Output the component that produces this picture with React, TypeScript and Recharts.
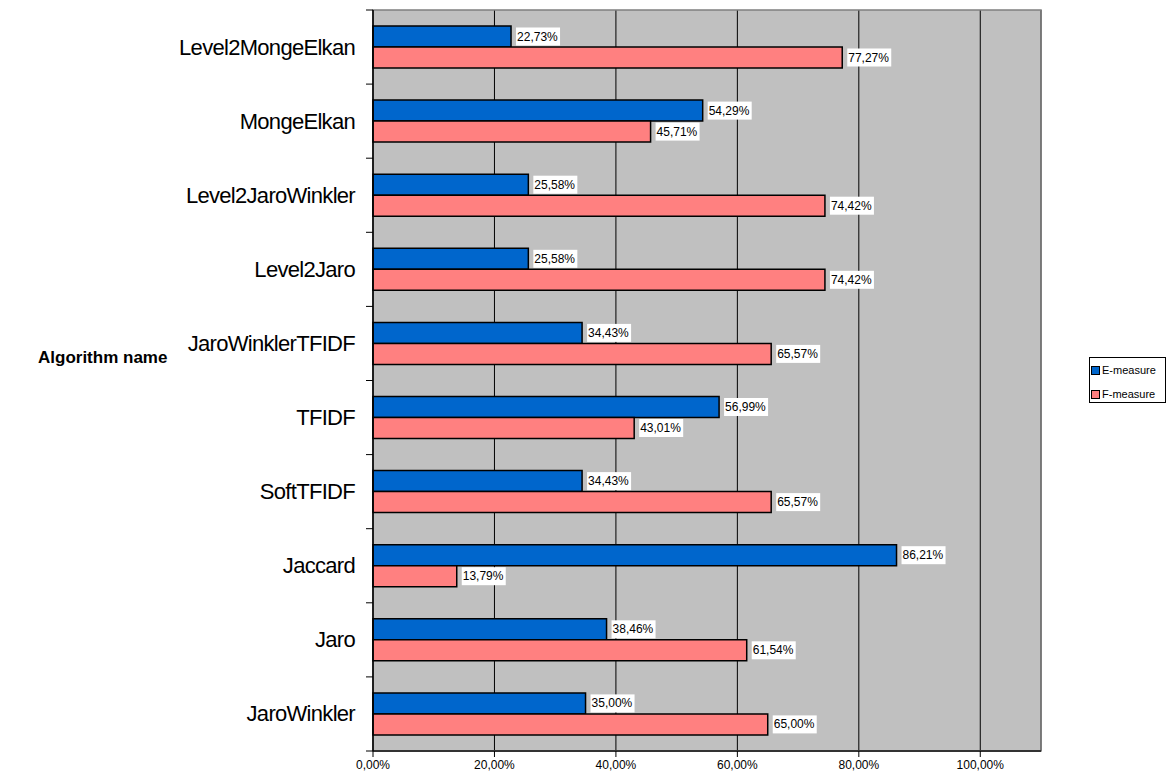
import React from 'react';
import { BarChart, Bar, XAxis, YAxis, CartesianGrid, LabelList, ReferenceArea } from 'recharts';

const CATEGORIES = [
  'Level2MongeElkan',
  'MongeElkan',
  'Level2JaroWinkler',
  'Level2Jaro',
  'JaroWinklerTFIDF',
  'TFIDF',
  'SoftTFIDF',
  'Jaccard',
  'Jaro',
  'JaroWinkler',
];
const E_MEASURE = [22.73, 54.29, 25.58, 25.58, 34.43, 56.99, 34.43, 86.21, 38.46, 35.0];
const F_MEASURE = [77.27, 45.71, 74.42, 74.42, 65.57, 43.01, 65.57, 13.79, 61.54, 65.0];
const X_TICKS = [0, 20, 40, 60, 80, 100];

const FONT = '"Liberation Sans", Arial, sans-serif';
const W = 1172;
const H = 776;
const MARGIN = { top: 10, right: 131, bottom: 0, left: 0 };
const X_AXIS_H = 25;
const Y_AXIS_W = 373;
const PLOT_H = H - MARGIN.top - MARGIN.bottom - X_AXIS_H;
const BAND = PLOT_H / CATEGORIES.length;
const TICK_SIZE = 7;
const TICK_MARGIN = 11;

const data = CATEGORIES.map((name, i) => ({ name, e: E_MEASURE[i], f: F_MEASURE[i] }));

const fmt = (v: number) => v.toFixed(2).replace('.', ',') + '%';

// category label at band centre, tick marks at band edges
const CategoryTick = (props: any) => {
  const { x, y, payload, index } = props;
  const lx1 = x + TICK_MARGIN;
  const lx2 = x + TICK_MARGIN + TICK_SIZE;
  return (
    <g>
      <line x1={lx1} x2={lx2} y1={y - BAND / 2} y2={y - BAND / 2} stroke="#000" strokeWidth={1} />
      {index === CATEGORIES.length - 1 && (
        <line x1={lx1} x2={lx2} y1={y + BAND / 2} y2={y + BAND / 2} stroke="#000" strokeWidth={1} />
      )}
      <text
        x={x}
        y={y}
        textAnchor="end"
        dominantBaseline="central"
        fontFamily={FONT}
        fontSize={22}
        letterSpacing={-0.7}
        fill="#000"
      >
        {payload.value}
      </text>
    </g>
  );
};

const ValueLabel = (props: any) => {
  const { x, y, width, height, value } = props;
  const bx = x + width + 5;
  const cy = y + height / 2;
  return (
    <g>
      <rect x={bx} y={cy - 9} width={44} height={18} fill="#fff" />
      <text x={bx + 1} y={cy} dominantBaseline="central" fontFamily={FONT} fontSize={12} fill="#000">
        {fmt(value)}
      </text>
    </g>
  );
};

const LegendBox = () => (
  <div
    style={{
      position: 'absolute',
      left: 1089,
      top: 357,
      width: 77,
      height: 46,
      border: '1px solid #000',
      boxSizing: 'border-box',
      background: '#fff',
      fontFamily: FONT,
      fontSize: 11,
      color: '#000',
    }}
  >
    {[
      { label: 'E-measure', color: '#0066CC' },
      { label: 'F-measure', color: '#FF8080' },
    ].map((item, i) => (
      <div
        key={item.label}
        style={{ position: 'absolute', left: 1, top: 6 + i * 24, display: 'flex', alignItems: 'center', whiteSpace: 'nowrap' }}
      >
        <span
          style={{
            display: 'inline-block',
            width: 7,
            height: 7,
            background: item.color,
            border: '1px solid #000',
            marginRight: 2,
          }}
        />
        <span>{item.label}</span>
      </div>
    ))}
  </div>
);

export default function App() {
  return (
    <div style={{ position: 'absolute', left: 0, top: 0, width: W, height: H, background: '#fff' }}>
      <BarChart width={W} height={H} data={data} layout="vertical" margin={MARGIN} barGap={0}>
        <CartesianGrid horizontal={false} stroke="#000" strokeWidth={1} fill="#C0C0C0" fillOpacity={1} />
        <ReferenceArea x1={0} x2={110} fill="none" stroke="#7f7f7f" strokeWidth={1.5} />
        <XAxis
          type="number"
          domain={[0, 110]}
          ticks={X_TICKS}
          interval={0}
          height={X_AXIS_H}
          tickFormatter={fmt}
          tick={{ fontFamily: FONT, fontSize: 12, fill: '#000' }}
          tickSize={6}
          tickMargin={3}
          stroke="#333"
          axisLine={{ stroke: '#333', strokeWidth: 2 }}
          tickLine={{ stroke: '#000' }}
        />
        <YAxis
          type="category"
          dataKey="name"
          width={Y_AXIS_W}
          tick={<CategoryTick />}
          tickLine={false}
          tickSize={TICK_SIZE}
          tickMargin={TICK_MARGIN}
          interval={0}
          axisLine={{ stroke: '#000', strokeWidth: 1.5 }}
          label={{
            value: 'Algorithm name',
            position: 'insideLeft',
            offset: 38,
            dy: -24,
            style: { fontFamily: FONT, fontSize: 17, fontWeight: 'bold', fill: '#000', textAnchor: 'start' },
          }}
        />
        <Bar dataKey="e" name="E-measure" fill="#0066CC" stroke="#000" strokeWidth={1.5} barSize={21} isAnimationActive={false}>
          <LabelList dataKey="e" content={<ValueLabel />} />
        </Bar>
        <Bar dataKey="f" name="F-measure" fill="#FF8080" stroke="#000" strokeWidth={1.5} barSize={21} isAnimationActive={false}>
          <LabelList dataKey="f" content={<ValueLabel />} />
        </Bar>
      </BarChart>
      <LegendBox />
    </div>
  );
}
